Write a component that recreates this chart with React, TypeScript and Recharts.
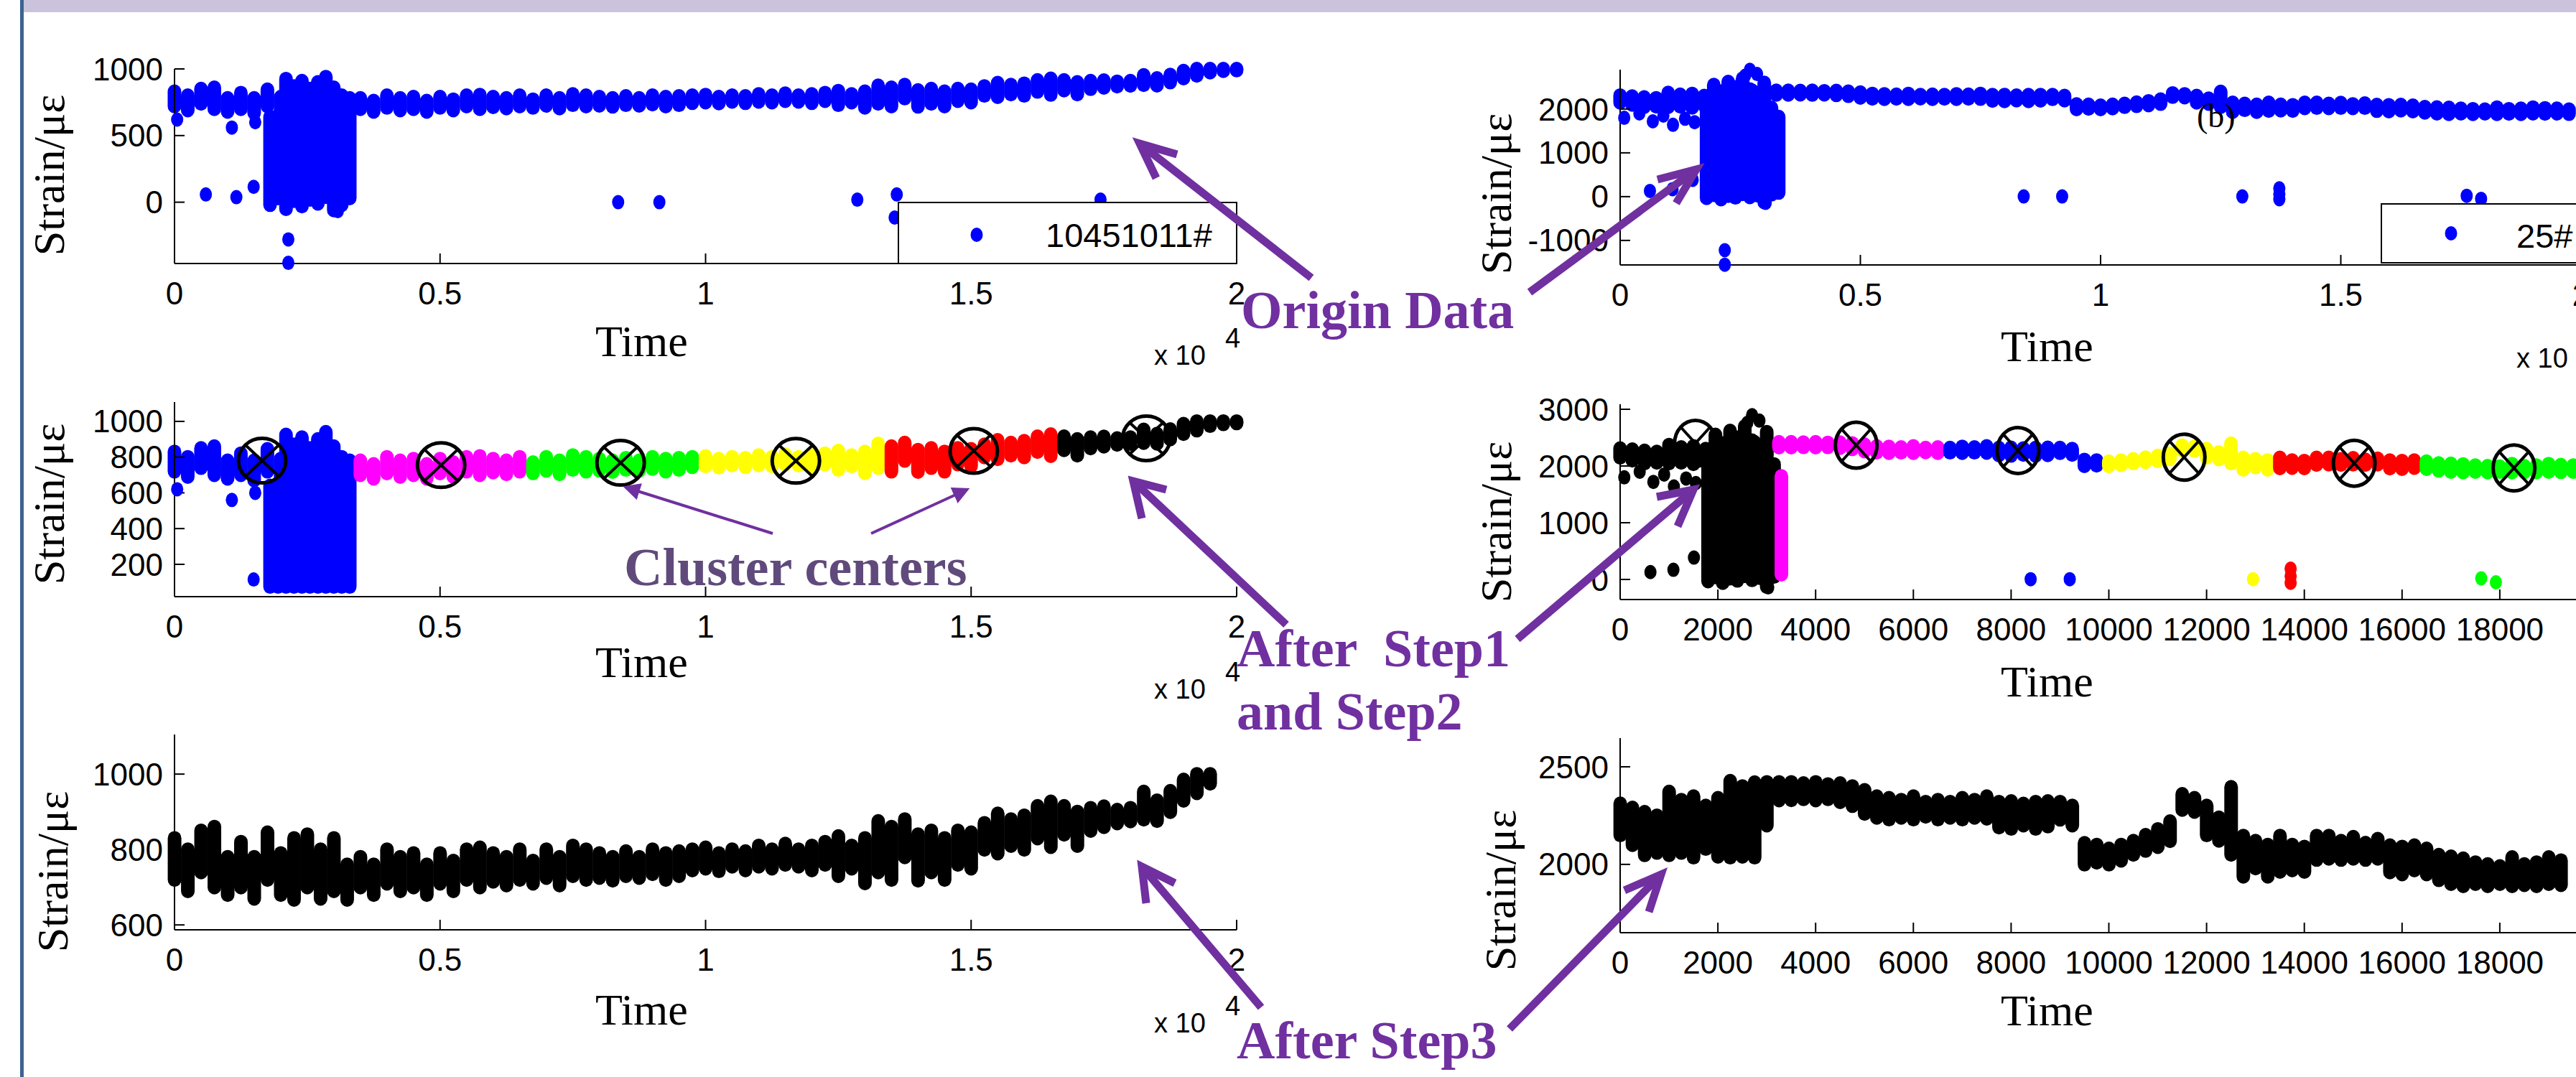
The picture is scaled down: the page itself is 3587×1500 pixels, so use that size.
import React from 'react';
import { ComposedChart, Bar, Scatter, XAxis, YAxis } from 'recharts';

// sample times along the record
const sampleTimes = [0, 250, 500, 750, 1000, 1250, 1500, 1750, 2000, 2250, 2500, 2750, 3000, 3250, 3500, 3750, 4000, 4250, 4500, 4750, 5000, 5250, 5500, 5750, 6000, 6250, 6500, 6750, 7000, 7250, 7500, 7750, 8000, 8250, 8500, 8750, 9000, 9250, 9500, 9750, 10000, 10250, 10500, 10750, 11000, 11250, 11500, 11750, 12000, 12250, 12500, 12750, 13000, 13250, 13500, 13750, 14000, 14250, 14500, 14750, 15000, 15250, 15500, 15750, 16000, 16250, 16500, 16750, 17000, 17250, 17500, 17750, 18000, 18250, 18500, 18750, 19000, 19250, 19500, 19750, 20000];

// sensor 10451011#: lowest and highest reading in each slice
const strain1Low = [720, 690, 740, 700, 680, 700, 670, 720, 680, 667, 700, 670, 690, 667, 700, 680, 710, 690, 700, 680, 710, 690, 720, 700, 715, 705, 720, 710, 725, 705, 730, 720, 725, 718, 730, 725, 735, 720, 730, 745, 750, 743, 755, 745, 755, 750, 760, 755, 745, 760, 730, 750, 711, 740, 720, 780, 718, 740, 720, 760, 750, 800, 790, 810, 800, 830, 807, 840, 810, 850, 860, 870, 875, 880, 876, 900, 930, 950, 975, 985, 990];
const strain1High = [830, 800, 850, 860, 780, 820, 780, 845, 790, 830, 840, 800, 830, 760, 780, 760, 800, 780, 790, 760, 790, 770, 800, 805, 790, 780, 800, 770, 800, 780, 810, 800, 790, 780, 795, 780, 800, 790, 795, 800, 805, 790, 800, 795, 810, 800, 815, 800, 810, 820, 835, 810, 830, 875, 860, 880, 840, 850, 830, 850, 845, 870, 895, 880, 890, 915, 927, 915, 900, 910, 914, 905, 910, 953, 930, 955, 985, 1000, 1000, 1000, 1000];

// sensor 25#
const strain2Low = [2150, 2100, 2048, 2060, 2048, 2060, 2036, 2080, 2040, 2036, 2040, 2036, 2200, 2329, 2330, 2335, 2329, 2335, 2320, 2300, 2260, 2240, 2231, 2240, 2231, 2245, 2231, 2240, 2231, 2240, 2235, 2190, 2183, 2200, 2183, 2195, 2230, 2200, 2000, 2010, 2000, 2020, 2050, 2070, 2090, 2120, 2280, 2270, 2150, 2122, 2050, 1938, 1980, 1938, 1963, 1970, 1963, 2024, 2030, 2024, 2030, 2024, 2030, 1960, 1950, 1970, 1950, 1920, 1900, 1889, 1900, 1889, 1900, 1889, 1895, 1889, 1900, 1895, 1900, 1890, null];
const strain2High = [2311, 2290, 2268, 2250, 2372, 2330, 2348, 2300, 2340, 2427, 2400, 2420, 2421, 2421, 2421, 2415, 2421, 2410, 2415, 2400, 2380, 2348, 2340, 2330, 2348, 2320, 2330, 2320, 2340, 2330, 2348, 2320, 2323, 2310, 2320, 2323, 2320, 2300, 2109, 2100, 2080, 2100, 2120, 2150, 2180, 2220, 2360, 2340, 2300, 2240, 2396, 2146, 2120, 2100, 2146, 2100, 2090, 2146, 2146, 2120, 2140, 2110, 2130, 2097, 2090, 2097, 2080, 2048, 2040, 2030, 2010, 2000, 1990, 2036, 2000, 2010, 2036, 2020, 2010, 1990, null];

// the disturbed stretch near the start
const burstTimes = [1800, 1950, 2100, 2250, 2400, 2550, 2700, 2850, 3000, 3150, 3300];
const burst1Low = [-20, 30, -50, 10, -30, 20, -10, 40, -60, -20, 30];
const burst1High = [640, 650, 925, 870, 910, 850, 900, 940, 860, 800, 780];
const burst2Low = [-30, 40, -60, 20, -20, 60, -10, 30, -130, 50, 90];
const burst2High = [2200, 2550, 2400, 2620, 2500, 2700, 2450, 2350, 2600, 2030, 1820];

const outliers1 = [[50, 620], [590, 58], [1080, 560], [1165, 38], [1490, 115], [1520, 600], [2143, -279], [2143, -455], [3075, -67], [8354, 0], [9130, 0], [12857, 19], [13600, 58], [13560, -115], [17437, 19]];
const outliers2 = [[85, 1800], [400, 1900], [620, 130], [680, 1720], [900, 1850], [1090, 170], [1100, 1640], [1350, 1780], [1510, 385], [1550, 1700], [2178, -1224], [2178, -1555], [2600, 2760], [2700, 2895], [2850, 2800], [3030, -140], [8400, 5], [9200, 5], [12950, 5], [13720, 190], [13720, 60], [13720, -60], [17620, 20], [17920, -50]];

const centers1 = [[1650, 780], [5020, 755], [8400, 768], [11700, 779], [15050, 835], [18300, 905]];
const centers2 = [[1540, 2400], [4830, 2366], [8140, 2273], [11540, 2155], [15020, 2049], [18290, 1965]];

const clusterColors1 = ['#0000ff', '#ff00ff', '#00ff00', '#ffff00', '#ff0000', '#000000'];
const clusterEdges1 = [3320, 6750, 9950, 13450, 16700];
const clusterColors2 = ['#000000', '#ff00ff', '#0000ff', '#ffff00', '#ff0000', '#00ff00'];
const clusterEdges2 = [3220, 6600, 9800, 13300, 16500];

const ticksE4 = [0, 5000, 10000, 15000, 20000];
const ticks2k = [0, 2000, 4000, 6000, 8000, 10000, 12000, 14000, 16000, 18000];

type Slice = { t: number; r: [number, number]; color: string };
type Pt = { t: number; v: number; color: string };

const slices = (times: number[], lo: (number | null)[], hi: (number | null)[]): Slice[] =>
  times
    .map((t, i) => ({ t, r: [lo[i], hi[i]] as [number, number], color: '#000' }))
    .filter((s) => s.r[0] != null && s.r[1] != null);
const pts = (arr: number[][]): Pt[] => arr.map(([t, v]) => ({ t, v, color: '#000' }));

const band1 = slices(sampleTimes, strain1Low, strain1High);
const band2 = slices(sampleTimes, strain2Low, strain2High);
const burst1 = slices(burstTimes, burst1Low, burst1High);
const burst2 = slices(burstTimes, burst2Low, burst2High);

const paint = <T extends { t: number; color: string }>(list: T[], color: string): T[] => list.map((d) => ({ ...d, color }));
const byCluster = <T extends { t: number; color: string }>(list: T[], edges: number[], colors: string[]): T[] =>
  list.map((d) => ({ ...d, color: colors[edges.filter((e) => d.t >= e).length] }));
const byTime = <T extends { t: number }>(list: T[]) => [...list].sort((a, b) => a.t - b.t);

const BLUE = '#0000ff';
const PURPLE = '#7030a0';
const SANS = '"Liberation Sans", Arial, sans-serif';
const SERIF = '"Liberation Serif", "Times New Roman", serif';

// a slice of overlapping markers: a capsule as wide as one marker
const capsule = (p: any) => {
  const w = 19;
  const cx = p.x + p.width / 2;
  const top = Math.min(p.y, p.y + p.height);
  const h = Math.abs(p.height);
  return <rect x={cx - w / 2} y={top - 10} width={w} height={h + 20} rx={w / 2} ry={10} fill={p.payload.color} />;
};
const dot = (p: any) => <ellipse cx={p.cx} cy={p.cy} rx={8.5} ry={10} fill={p.payload.color} />;
const ring = (rx: number, ry: number) => (p: any) => (
  <g>
    <ellipse cx={p.cx} cy={p.cy} rx={rx} ry={ry} fill="none" stroke="#000" strokeWidth={5} />
    <line x1={p.cx - rx * 0.7} y1={p.cy - ry * 0.7} x2={p.cx + rx * 0.7} y2={p.cy + ry * 0.7} stroke="#000" strokeWidth={4} />
    <line x1={p.cx - rx * 0.7} y1={p.cy + ry * 0.7} x2={p.cx + rx * 0.7} y2={p.cy - ry * 0.7} stroke="#000" strokeWidth={4} />
  </g>
);

type PanelProps = {
  box: { x: number; y: number; w: number; h: number };
  yDomain: [number, number];
  yTicks: number[];
  xTicks: number[];
  xFmt?: (v: number) => string;
  band: Slice[];
  dots?: Pt[];
  centers?: number[][];
  ringSize?: [number, number];
};

const axisLine = { stroke: '#000', strokeWidth: 2 };
const tickFont = { fill: '#000', fontSize: 44, fontFamily: SANS };

const Panel = ({ box, yDomain, yTicks, xTicks, xFmt, band, dots, centers, ringSize }: PanelProps) => {
  const m = { top: 20, right: 20, bottom: 10, left: 10 };
  const yw = 120;
  const xh = 70;
  return (
    <div style={{ position: 'absolute', left: box.x - m.left - yw, top: box.y - m.top }}>
      <ComposedChart width={box.w + m.left + yw + m.right} height={box.h + m.top + xh + m.bottom} margin={m} data={band}>
        <XAxis type="number" dataKey="t" domain={[0, 20000]} ticks={xTicks} interval={0} tickFormatter={xFmt}
          height={xh} tickSize={-14} tickMargin={40} axisLine={axisLine} tickLine={axisLine} tick={tickFont} />
        <XAxis xAxisId="top" orientation="top" type="number" dataKey="t" domain={[0, 20000]} ticks={xTicks}
          interval={0} height={0} tickSize={-14} tick={false} axisLine={axisLine} tickLine={axisLine} />
        <YAxis type="number" domain={yDomain} ticks={yTicks} interval={0} width={yw}
          tickSize={-14} tickMargin={30} axisLine={axisLine} tickLine={axisLine} tick={tickFont} />
        <YAxis yAxisId="right" orientation="right" type="number" domain={yDomain} ticks={yTicks}
          interval={0} width={0} tickSize={-14} tick={false} axisLine={axisLine} tickLine={axisLine} />
        <Bar dataKey="r" barSize={19} shape={capsule} isAnimationActive={false} />
        {dots && dots.length > 0 && <Scatter data={dots} dataKey="v" shape={dot} isAnimationActive={false} />}
        {centers && ringSize && (
          <Scatter data={pts(centers)} dataKey="v" shape={ring(ringSize[0], ringSize[1])} isAnimationActive={false} />
        )}
      </ComposedChart>
    </div>
  );
};

const e4 = (v: number) => String(v / 10000);

const ThickArrow = ({ from, to, a, b }: { from: number[]; to: number[]; a: number[]; b: number[] }) => (
  <g stroke={PURPLE} strokeWidth={11} fill="none">
    <line x1={from[0]} y1={from[1]} x2={to[0]} y2={to[1]} />
    <polyline points={`${a[0]},${a[1]} ${to[0]},${to[1]} ${b[0]},${b[1]}`} strokeLinejoin="miter" />
  </g>
);

const ylab = (x: number, cy: number) => (
  <text transform={`translate(${x},${cy}) rotate(-90)`} textAnchor="middle" fontFamily={SERIF} fontSize={62}>
    Strain/με
  </text>
);
const xlab = (x: number, y: number) => (
  <text x={x} y={y} fontFamily={SERIF} fontSize={62}>Time</text>
);
const scale = (x: number, y: number) => (
  <g fontFamily={SANS} fontSize={38}>
    <text x={x} y={y}>x 10</text>
    <text x={x + 99} y={y - 24}>4</text>
  </g>
);
const note = (x: number, y: number, s: string, color = PURPLE) => (
  <text x={x} y={y} fontFamily={SERIF} fontWeight="bold" fontSize={74} fill={color} style={{ whiteSpace: 'pre' }}>
    {s}
  </text>
);

const panelC = byTime(byCluster([...band1, ...burst1.map((s) => ({ ...s, r: [Math.max(s.r[0], 75), s.r[1]] as [number, number] }))], clusterEdges1, clusterColors1));
const panelD = byTime(byCluster([...band2, ...burst2], clusterEdges2, clusterColors2));

export default function App() {
  return (
    <div style={{ position: 'absolute', left: 0, top: 0, width: 3587, height: 1500, overflow: 'hidden', background: '#fff' }}>
      <div style={{ position: 'absolute', left: 33, top: 0, width: 3554, height: 17, background: '#cbc3dc' }} />
      <div style={{ position: 'absolute', left: 28, top: 0, width: 5, height: 1500, background: '#3c6390' }} />

      <Panel box={{ x: 243, y: 96, w: 1479, h: 271 }} yDomain={[-460, 1000]} yTicks={[0, 500, 1000]}
        xTicks={ticksE4} xFmt={e4} band={byTime(paint([...band1, ...burst1], BLUE))} dots={paint(pts(outliers1), BLUE)} />
      <Panel box={{ x: 2256, y: 97, w: 1338, h: 272 }} yDomain={[-1560, 2900]} yTicks={[-1000, 0, 1000, 2000]}
        xTicks={ticksE4} xFmt={e4} band={byTime(paint([...band2, ...burst2], BLUE))} dots={paint(pts(outliers2), BLUE)} />
      <Panel box={{ x: 243, y: 560, w: 1479, h: 271 }} yDomain={[19, 1108]} yTicks={[200, 400, 600, 800, 1000]}
        xTicks={ticksE4} xFmt={e4} band={panelC}
        dots={byCluster(pts(outliers1).filter((p) => p.v > 60), clusterEdges1, clusterColors1)}
        centers={centers1} ringSize={[33, 31]} />
      <Panel box={{ x: 2256, y: 563, w: 1361, h: 272 }} yDomain={[-354, 3089]} yTicks={[0, 1000, 2000, 3000]}
        xTicks={ticks2k} band={panelD}
        dots={byCluster(pts(outliers2).filter((p) => p.v > -300), clusterEdges2, clusterColors2)}
        centers={centers2} ringSize={[29, 32]} />
      <Panel box={{ x: 243, y: 1023, w: 1479, h: 272 }} yDomain={[587, 1105]} yTicks={[600, 800, 1000]}
        xTicks={ticksE4} xFmt={e4} band={band1.filter((s) => s.t <= 19500)} />
      <Panel box={{ x: 2256, y: 1028, w: 1361, h: 271 }} yDomain={[1650, 2647]} yTicks={[2000, 2500]}
        xTicks={ticks2k} band={band2.filter((s) => s.t <= 19400)} />

      <svg width={3587} height={1500} style={{ position: 'absolute', left: 0, top: 0, pointerEvents: 'none' }}>
        <defs>
          <marker id="tri" viewBox="0 0 10 10" refX="8" refY="5" markerWidth="24" markerHeight="24"
            markerUnits="userSpaceOnUse" orient="auto">
            <path d="M0,0 L10,5 L0,10 Z" fill={PURPLE} />
          </marker>
        </defs>

        {/* legends */}
        <rect x={1251} y={282} width={471} height={85} fill="#fff" stroke="#000" strokeWidth={2} />
        <ellipse cx={1360} cy={327} rx={8.5} ry={10} fill={BLUE} />
        <text x={1456} y={344} fontFamily={SANS} fontSize={47}>10451011#</text>
        <rect x={3316} y={284} width={400} height={82} fill="#fff" stroke="#000" strokeWidth={2} />
        <ellipse cx={3413} cy={325} rx={8.5} ry={10} fill={BLUE} />
        <text x={3504} y={345} fontFamily={SANS} fontSize={47}>25#</text>
        <text x={3059} y={177} fontFamily={SERIF} fontSize={46}>(b)</text>

        {/* axis titles */}
        {ylab(89, 244)}
        {ylab(2104, 270)}
        {ylab(89, 702)}
        {ylab(2104, 727)}
        {ylab(94, 1214)}
        {ylab(2110, 1240)}
        {xlab(829, 496)}
        {xlab(2786, 503)}
        {xlab(829, 943)}
        {xlab(2786, 970)}
        {xlab(829, 1427)}
        {xlab(2786, 1428)}
        {scale(1607, 508)}
        {scale(3504, 512)}
        {scale(1607, 973)}
        {scale(1607, 1438)}

        {/* annotations */}
        {note(1728, 457, 'Origin Data')}
        {note(1722, 928, 'After  Step1')}
        {note(1722, 1016, 'and Step2')}
        {note(1722, 1474, 'After Step3')}
        {note(869, 815, 'Cluster centers', '#604a7b')}

        <ThickArrow from={[1826, 387]} to={[1587, 200]} a={[1639, 215]} b={[1610, 248]} />
        <ThickArrow from={[2130, 407]} to={[2362, 236]} a={[2308, 250]} b={[2334, 283]} />
        <ThickArrow from={[1791, 870]} to={[1578, 670]} a={[1624, 682]} b={[1590, 722]} />
        <ThickArrow from={[2113, 890]} to={[2358, 682]} a={[2307, 692]} b={[2336, 733]} />
        <ThickArrow from={[1756, 1403]} to={[1590, 1207]} a={[1636, 1230]} b={[1596, 1258]} />
        <ThickArrow from={[2102, 1433]} to={[2313, 1218]} a={[2262, 1240]} b={[2296, 1270]} />
        <line x1={1076} y1={743} x2={872} y2={679} stroke={PURPLE} strokeWidth={4} markerEnd="url(#tri)" />
        <line x1={1213} y1={743} x2={1346} y2={682} stroke={PURPLE} strokeWidth={4} markerEnd="url(#tri)" />
      </svg>
    </div>
  );
}
